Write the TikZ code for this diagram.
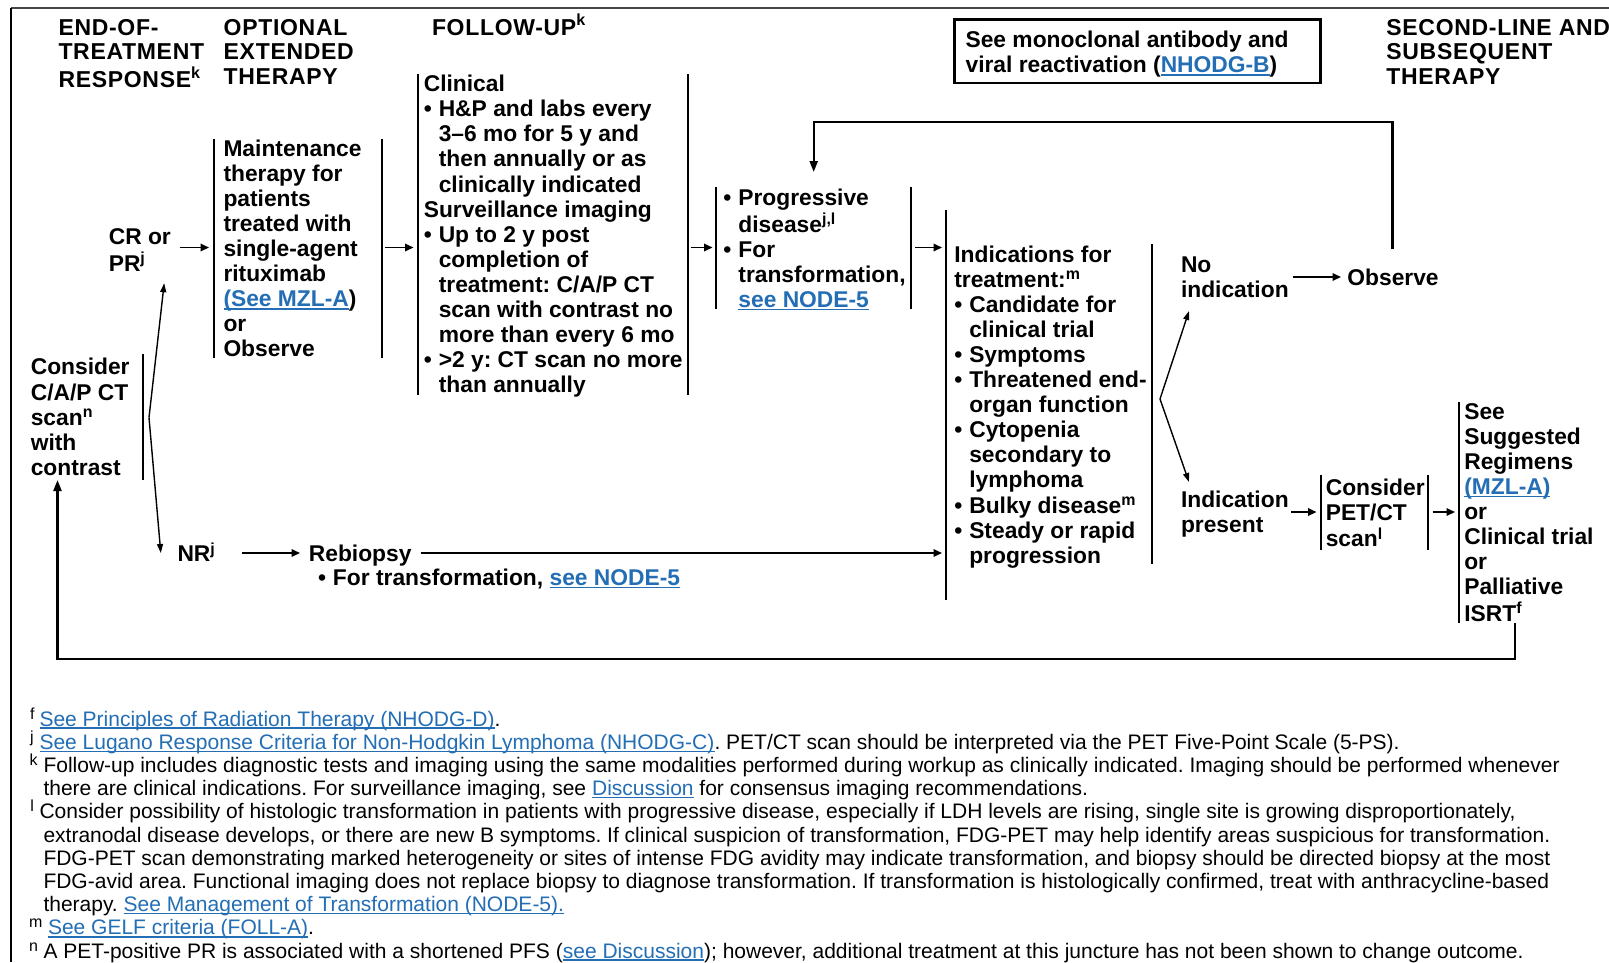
\documentclass[tikz,border=0pt]{standalone}
\usepackage{fontspec}
\setmainfont{Liberation Sans}
\newfontfamily\headfamily[LetterSpace=3]{Liberation Sans}
\usetikzlibrary{arrows.meta}
\definecolor{lnk}{RGB}{35,110,180}
\definecolor{framegray}{RGB}{70,70,70}
\newcommand\bodyf{\fontsize{22.8}{25.1}\selectfont\bfseries}
\newcommand\headf{\headfamily\fontsize{23}{24.6}\selectfont\bfseries}
\newcommand\notef{\fontsize{21}{23.2}\selectfont}
\newcommand\stk[1]{\begin{tabular}[t]{@{}l@{}}#1\end{tabular}}
% blue underlined cross reference
\newcommand\lk[1]{\textcolor{lnk}{\setbox0\hbox{#1}\rlap{\rule[-0.13em]{\wd0}{0.065em}}\box0}}
\newcommand\bu[1]{\makebox[15pt][l]{\textbullet}#1}
\newcommand\idt{\hspace*{15pt}}
% footnote marker
\newcommand\fmark[1]{\raisebox{7pt}{\fontsize{16}{16}\selectfont #1}}
\frenchspacing
\begin{document}
\frenchspacing
\begin{tikzpicture}[x=1pt,y=-1pt,
  txt/.style={anchor=base west, inner sep=0pt, outer sep=0pt},
  body/.style={txt, font=\bodyf},
  head/.style={txt, font=\headf},
  note/.style={txt, font=\notef},
  bar/.style={line width=2pt},
  arr/.style={line width=1.8pt, -{Triangle[length=8.5pt,width=7.5pt]}},
  split/.style={line width=1.4pt, -{Triangle[length=9pt,width=6pt]}},
  loopend/.style={line width=2.2pt, -{Triangle[length=11pt,width=8pt]}}]
\useasboundingbox (0,0) rectangle (1609,962);
\fill[white] (0,0) rectangle (1609,962);

% page frame
\draw[line width=2pt, framegray] (11,8) -- (1609,8);
\draw[line width=2pt] (11,8) -- (11,962);

% column headings
\node[head] (h1) at (58.5,35) {\stk{END-OF-\\TREATMENT\\RESPONSE\textsuperscript{k}}};
\node[head] (h2) at (223.7,35) {\stk{OPTIONAL\\EXTENDED\\THERAPY}};
\node[head] (h3) at (432,35) {FOLLOW-UP\textsuperscript{k}};
\node[head] (h4) at (1386.4,35) {\stk{SECOND-LINE AND\\SUBSEQUENT\\THERAPY}};

% boxed cross reference
\draw[line width=2.5pt] (954.3,19.5) rectangle (1320.7,83.1);
\node[body] (mab) at (965.6,47.5) {\stk{See monoclonal antibody and\\viral reactivation (\lk{NHODG-B})}};

% end-of-treatment response
\node[body] (cap) at (30.8,374.9) {\stk{Consider\\C/A/P CT\\scan\textsuperscript{n}\\with\\contrast}};
\draw[bar] (142.6,354) -- (142.6,480);
\node[body] (cr) at (108.8,244.5) {\stk{CR or\\PR\textsuperscript{j}}};
\node[body] (nr) at (177.5,561.6) {NR\textsuperscript{j}};

% optional extended therapy
\node[body] (mt) at (223.5,156) {\stk{Maintenance\\therapy for\\patients\\treated with\\single-agent\\rituximab\\\lk{(See MZL-A})\\or\\Observe}};
\draw[bar] (213.5,139) -- (213.5,358);
\draw[bar] (381.5,139) -- (381.5,358);

% follow-up
\node[body] (fu) at (423.8,91.6) {\stk{Clinical\\\bu{H\&P and labs every}\\\idt 3–6 mo for 5 y and\\\idt then annually or as\\\idt clinically indicated\\Surveillance imaging\\\bu{Up to 2 y post}\\\idt completion of\\\idt treatment: C/A/P CT\\\idt scan with contrast no\\\idt more than every 6 mo\\\bu{>2 y: CT scan no more}\\\idt than annually}};
\draw[bar] (417.6,74) -- (417.6,395);
\draw[bar] (687.5,74) -- (687.5,395);

% progression
\node[body] (pd) at (723.4,205.5) {\stk{\bu{Progressive}\\\idt disease\textsuperscript{j,l}\\\bu{For}\\\idt transformation,\\\idt\lk{see NODE-5}}};
\draw[bar] (716.3,187) -- (716.3,309);
\draw[bar] (911.2,187) -- (911.2,309);

% rebiopsy
\node[body] (rb) at (308.9,561.6) {Rebiopsy};
\node[body] (rbt) at (318,585.2) {\bu{For transformation, \lk{see NODE-5}}};

% indications for treatment
\node[body] (ind) at (954.3,262) {\stk{Indications for\\treatment:\textsuperscript{m}\\\bu{Candidate for}\\\idt clinical trial\\\bu{Symptoms}\\\bu{Threatened end-}\\\idt organ function\\\bu{Cytopenia}\\\idt secondary to\\\idt lymphoma\\\bu{Bulky disease\textsuperscript{m}}\\\bu{Steady or rapid}\\\idt progression}};
\draw[bar] (946.1,210.4) -- (946.1,600.3);
\draw[bar] (1152.4,244.2) -- (1152.4,564.4);

% decision
\node[body] (noi) at (1181,272.2) {\stk{No\\indication}};
\node[body] (obs) at (1347.4,285.6) {Observe};
\node[body] (ip) at (1181,507.2) {\stk{Indication\\present}};
\node[body] (pet) at (1325.8,495) {\stk{Consider\\PET/CT\\scan\textsuperscript{l}}};
\draw[bar] (1320.7,475) -- (1320.7,550);
\draw[bar] (1428.4,475) -- (1428.4,550);
\node[body] (sl) at (1464.3,419) {\stk{See\\Suggested\\Regimens\\\lk{(MZL-A)}\\or\\Clinical trial\\or\\Palliative\\ISRT\textsuperscript{f}}};
\draw[bar] (1459.2,402.3) -- (1459.2,622.9);

% connector end points
\coordinate (crR) at (179.6,247.5);  \coordinate (mtL) at (209,247.5);
\coordinate (mtR) at (385,247.5);    \coordinate (fuL) at (413.5,247.5);
\coordinate (fuR) at (690.6,247.5);  \coordinate (pdL) at (712.5,247.5);
\coordinate (pdR) at (915.3,247.5);  \coordinate (indL) at (942,247.5);
\coordinate (capV) at (149,417.5);
\coordinate (crB) at (164.2,283.2);  \coordinate (nrT) at (160.8,553);
\coordinate (nrR) at (242,553);      \coordinate (rbL) at (300,553);
\coordinate (rbR) at (420.7,553);    \coordinate (indL2) at (942,553);
\coordinate (indV) at (1160,399);
\coordinate (noiB) at (1189,311);    \coordinate (ipT) at (1189,482);
\coordinate (noiR) at (1293,277);    \coordinate (obsL) at (1341,277);
\coordinate (ipR) at (1291,512);     \coordinate (petL) at (1316.5,512);
\coordinate (petR) at (1432.5,512);  \coordinate (slL) at (1455,512);
\coordinate (obsT) at (1392.5,249.4); \coordinate (topR) at (1392.5,122.1);
\coordinate (topL) at (813.7,122.1); \coordinate (pdT) at (813.7,172);
\coordinate (slB) at (1514.6,622.9); \coordinate (botR) at (1514.6,658.8);
\coordinate (botL) at (57.5,658.8);  \coordinate (capB) at (57.5,480);

% connectors
\draw[arr] (crR) -- (mtL);
\draw[arr] (mtR) -- (fuL);
\draw[arr] (fuR) -- (pdL);
\draw[arr] (pdR) -- (indL);
\draw[split] (capV) -- (crB);
\draw[split] (capV) -- (nrT);
\draw[arr] (nrR) -- (rbL);
\draw[arr] (rbR) -- (indL2);
\draw[split] (indV) -- (noiB);
\draw[split] (indV) -- (ipT);
\draw[arr] (noiR) -- (obsL);
\draw[arr] (ipR) -- (petL);
\draw[arr] (petR) -- (slL);
\draw[loopend] (obsT) -- (topR) -- (topL) -- (pdT);
\draw[loopend] (slB) -- (botR) -- (botL) -- (capB);

% footnotes
\node[note] (mf) at (30,726) {\fmark{f}};
\node[note] (nf) at (39.5,726) {\lk{See Principles of Radiation Therapy (NHODG-D)}.};
\node[note] (mj) at (30,749.2) {\fmark{j}};
\node[note] (nj) at (39.5,749.2) {\lk{See Lugano Response Criteria for Non-Hodgkin Lymphoma (NHODG-C)}. PET/CT scan should be interpreted via the PET Five-Point Scale (5-PS).};
\node[note] (mk) at (29.5,772.4) {\fmark{k}};
\node[note] (nk) at (43.5,772.4) {Follow-up includes diagnostic tests and imaging using the same modalities performed during workup as clinically indicated. Imaging should be performed whenever};
\node[note] (nk2) at (43.5,795.6) {there are clinical indications. For surveillance imaging, see \lk{Discussion} for consensus imaging recommendations.};
\node[note] (ml) at (30.5,818.8) {\fmark{l}};
\node[note] (nl) at (39.5,818.8) {Consider possibility of histologic transformation in patients with progressive disease, especially if LDH levels are rising, single site is growing disproportionately,};
\node[note] (nl2) at (43.5,842) {extranodal disease develops, or there are new B symptoms. If clinical suspicion of transformation, FDG-PET may help identify areas suspicious for transformation.};
\node[note] (nl3) at (43.5,865.2) {FDG-PET scan demonstrating marked heterogeneity or sites of intense FDG avidity may indicate transformation, and biopsy should be directed biopsy at the most};
\node[note] (nl4) at (43.5,888.4) {FDG-avid area. Functional imaging does not replace biopsy to diagnose transformation. If transformation is histologically confirmed, treat with anthracycline-based};
\node[note] (nl5) at (43.5,911.6) {therapy. \lk{See Management of Transformation (NODE-5).}};
\node[note] (mm) at (29,934.8) {\fmark{m}};
\node[note] (nm) at (48,934.8) {\lk{See GELF criteria (FOLL-A)}.};
\node[note] (mn) at (29,958) {\fmark{n}};
\node[note] (nn) at (43.5,958) {A PET-positive PR is associated with a shortened PFS (\lk{see Discussion}); however, additional treatment at this juncture has not been shown to change outcome.};
\end{tikzpicture}
\end{document}
